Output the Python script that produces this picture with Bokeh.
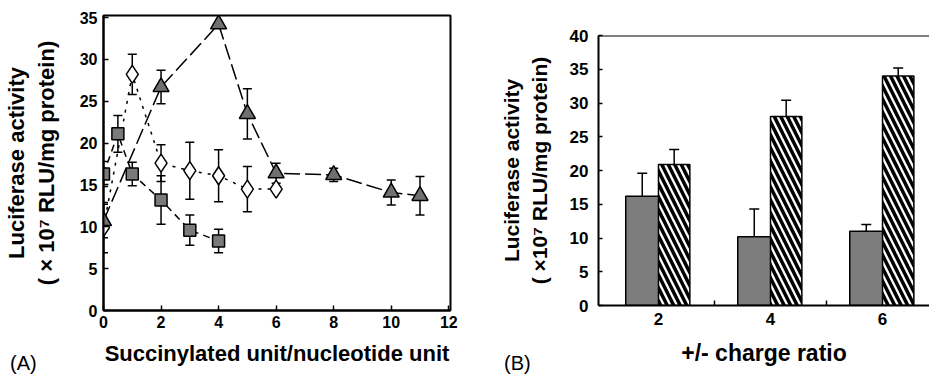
from bokeh.plotting import figure
from bokeh.models import ColumnDataSource, Whisker, FixedTicker, Range1d, Span, TeeHead, Div
from bokeh.layouts import row, column
from bokeh.embed import file_html
from bokeh.resources import INLINE

# ---------------- Panel A data ----------------
sq_x = [0, 0.5, 1, 2, 3, 4]
sq_y = [16.3, 21.1, 16.3, 13.2, 9.6, 8.3]
sq_err = [1.5, 2.2, 1.4, 2.9, 1.8, 1.4]

dm_x = [0, 1, 2, 3, 4, 5, 6]
dm_y = [9.9, 28.2, 17.6, 16.7, 16.1, 14.5, 14.5]
dm_err = [3.0, 2.4, 2.2, 3.4, 3.1, 2.7, 0.0]

tr_x = [0, 2, 4, 5, 6, 8, 10, 11]
tr_y = [10.7, 26.7, 34.2, 23.5, 16.4, 16.2, 14.1, 13.7]
tr_err = [2.0, 2.0, 0.0, 3.0, 1.2, 0.8, 1.5, 2.3]

a_xticks = [0, 2, 4, 6, 8, 10, 12]
a_yticks = [0, 5, 10, 15, 20, 25, 30, 35]

# ---------------- Panel B data ----------------
ratios = [2, 4, 6]
gray_vals = [16.2, 10.2, 11.0]
gray_err = [3.4, 4.1, 1.0]
hatch_vals = [20.9, 28.0, 34.0]
hatch_err = [2.2, 2.4, 1.2]
b_yticks = [0, 5, 10, 15, 20, 25, 30, 35, 40]

FONT = "Liberation Sans"

def style_axes(p, tick_size, title_size):
    for ax in (p.xaxis[0], p.yaxis[0]):
        ax.major_label_text_font = FONT
        ax.major_label_text_font_style = "bold"
        ax.major_label_text_font_size = tick_size
        ax.major_label_text_color = "black"
        ax.axis_label_text_font = FONT
        ax.axis_label_text_font_style = "bold"
        ax.axis_label_text_font_size = title_size
        ax.axis_label_text_color = "black"
        ax.axis_line_color = "black"
        ax.axis_line_width = 2
        ax.major_tick_line_color = "black"
        ax.major_tick_line_width = 1.5
        ax.major_tick_in = 5
        ax.major_tick_out = 0
        ax.minor_tick_line_color = "black"
        ax.minor_tick_in = 4
        ax.minor_tick_out = 0
    p.xgrid.visible = False
    p.ygrid.visible = False

# ---------------- Panel A ----------------
pa = figure(width=465, height=374, output_backend="svg", toolbar_location=None,
            x_range=Range1d(0, 12.06), y_range=Range1d(0, 35.24),
            min_border_left=103, min_border_right=15, min_border_top=15, min_border_bottom=64)
pa.outline_line_color = "black"
pa.outline_line_width = 2
style_axes(pa, "16px", "22px")
pa.xaxis.ticker = FixedTicker(ticks=a_xticks, minor_ticks=[])
pa.yaxis.ticker = FixedTicker(ticks=a_yticks, minor_ticks=[])
pa.xaxis.axis_label = "Succinylated unit/nucleotide unit"
pa.yaxis.axis_label = "Luciferase activity\n( \u00d7 10\u2077 RLU/mg protein)"
pa.xaxis.major_label_standoff = 5
pa.xaxis.axis_label_standoff = 10
pa.yaxis.major_label_standoff = 6
pa.yaxis.axis_label_standoff = 18

def whiskers(p, xs, ys, errs, level="underlay"):
    keep = [(x, y, e) for x, y, e in zip(xs, ys, errs) if e > 0]
    src = ColumnDataSource(dict(x=[k[0] for k in keep],
                                upper=[k[1] + k[2] for k in keep],
                                lower=[k[1] - k[2] for k in keep]))
    w = Whisker(base="x", upper="upper", lower="lower", source=src,
                line_color="black", line_width=1.5, level=level,
                upper_head=TeeHead(size=9, line_width=1.5, line_color="black"),
                lower_head=TeeHead(size=9, line_width=1.5, line_color="black"))
    p.add_layout(w)

whiskers(pa, sq_x, sq_y, sq_err)
whiskers(pa, dm_x, dm_y, dm_err)
whiskers(pa, tr_x, tr_y, tr_err)

pa.line(sq_x, sq_y, line_color="black", line_width=1.5, line_dash="7 5")
pa.line(dm_x, dm_y, line_color="black", line_width=1.5, line_dash="3 6")
pa.line(tr_x, tr_y, line_color="black", line_width=1.5, line_dash="16 5")

pa.scatter(sq_x, sq_y, marker="square", size=12, fill_color="#7a7a7a",
           line_color="black", line_width=1.5)
pa.scatter(dm_x, dm_y, marker="diamond", size=18, fill_color="white",
           line_color="black", line_width=1.5)
pa.scatter(tr_x, tr_y, marker="triangle", size=16, fill_color="#707070",
           line_color="black", line_width=1.5)

# ---------------- Panel B ----------------
pb = figure(width=464, height=374, output_backend="svg", toolbar_location=None,
            x_range=Range1d(0.929, 6.839), y_range=Range1d(0, 40),
            min_border_left=133, min_border_right=0, min_border_top=35, min_border_bottom=69)
pb.outline_line_color = None
style_axes(pb, "17px", "21px")
pb.xaxis.ticker = FixedTicker(ticks=ratios, minor_ticks=[3, 5])
pb.yaxis.ticker = FixedTicker(ticks=b_yticks, minor_ticks=[])
pb.xaxis.axis_label = "+/- charge ratio"
pb.xaxis.axis_label_text_font_size = "23px"
pb.yaxis.axis_label = "Luciferase activity\n( \u00d710\u2077 RLU/mg protein)"
pb.xaxis.major_label_standoff = 7
pb.xaxis.axis_label_standoff = 12
pb.yaxis.major_label_standoff = 10
pb.yaxis.axis_label_standoff = 16
pb.xaxis.major_tick_in = 0
pb.xaxis.minor_tick_in = 5
pb.xaxis.minor_tick_line_width = 1.5
pb.yaxis.major_tick_in = 4

pb.add_layout(Span(location=40, dimension="width", line_color="black", line_width=2))

gx = [r - 0.29 for r in ratios]
hx = [r + 0.28 for r in ratios]
pb.vbar(x=gx, top=gray_vals, bottom=0, width=0.59, fill_color="#7d7d7d",
        line_color="black", line_width=1.5)
pb.vbar(x=hx, top=hatch_vals, bottom=0, width=0.56, fill_color="white",
        hatch_pattern="\\", hatch_color="black", hatch_scale=13, hatch_weight=3.5,
        line_color="black", line_width=1.5)

gsrc = ColumnDataSource(dict(x=gx, upper=[v + e for v, e in zip(gray_vals, gray_err)],
                             lower=gray_vals))
pb.add_layout(Whisker(base="x", upper="upper", lower="lower", source=gsrc,
                      line_color="black", line_width=1.5,
                      upper_head=TeeHead(size=10, line_width=1.5, line_color="black"),
                      lower_head=None))
hsrc = ColumnDataSource(dict(x=hx, upper=[v + e for v, e in zip(hatch_vals, hatch_err)],
                             lower=[v - e for v, e in zip(hatch_vals, hatch_err)]))
pb.add_layout(Whisker(base="x", upper="upper", lower="lower", source=hsrc,
                      line_color="black", line_width=1.5,
                      upper_head=TeeHead(size=10, line_width=1.5, line_color="black"),
                      lower_head=TeeHead(size=10, line_width=1.5, line_color="black")))

# ---------------- Panel letters ----------------
STYLE = "font-family:'Liberation Sans';font-size:20px;line-height:20px;color:black;margin:0;padding:0;white-space:nowrap"
div_a = Div(text='<div style="%s">(A)</div>' % STYLE, width=40, height=20, margin=(-21, 0, 0, 10))
div_b = Div(text='<div style="%s">(B)</div>' % STYLE, width=40, height=20, margin=(-21, 0, 0, 39))

layout = row(column(pa, div_a, spacing=0), column(pb, div_b, spacing=0), spacing=0)
open("out.html", "w").write(file_html(layout, INLINE))
